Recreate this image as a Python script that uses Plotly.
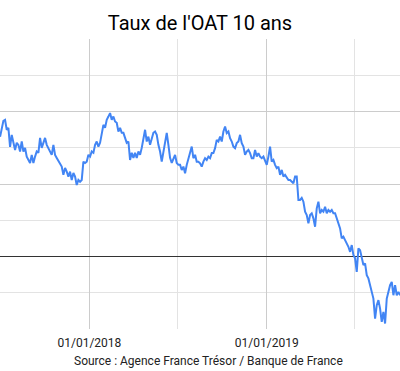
import pandas as pd
import plotly.graph_objects as go

# Sampling grid of the series (regular spacing, ~3.43 days)
start_date = "2017-07-01 03:00"
step = "4940min"

oat_10y = [
    0.825, 0.874, 0.936, 0.943, 0.874, 0.887, 0.756, 0.839, 0.793, 0.735,
    0.784, 0.770, 0.724, 0.793, 0.724, 0.749, 0.689, 0.666, 0.645, 0.701,
    0.645, 0.689, 0.724, 0.715, 0.818, 0.749, 0.793, 0.818, 0.770, 0.749,
    0.724, 0.701, 0.770, 0.701, 0.680, 0.659, 0.645, 0.620, 0.563, 0.611,
    0.585, 0.551, 0.585, 0.528, 0.576, 0.551, 0.493, 0.528, 0.516, 0.528,
    0.654, 0.645, 0.654, 0.701, 0.689, 0.724, 0.715, 0.770, 0.793, 0.758,
    0.784, 0.853, 0.908, 0.887, 0.943, 0.965, 0.989, 0.943, 0.965, 0.931,
    0.922, 0.862, 0.887, 0.853, 0.853, 0.818, 0.784, 0.793, 0.666, 0.715,
    0.680, 0.715, 0.680, 0.724, 0.701, 0.749, 0.827, 0.874, 0.793, 0.827,
    0.770, 0.818, 0.853, 0.862, 0.839, 0.770, 0.724, 0.654, 0.715, 0.793,
    0.853, 0.770, 0.680, 0.645, 0.680, 0.701, 0.645, 0.632, 0.632, 0.597,
    0.620, 0.574, 0.632, 0.680, 0.715, 0.758, 0.678, 0.701, 0.654, 0.654,
    0.643, 0.620, 0.654, 0.678, 0.666, 0.689, 0.678, 0.713, 0.713, 0.747,
    0.804, 0.793, 0.827, 0.793, 0.862, 0.896, 0.851, 0.862, 0.816, 0.793,
    0.758, 0.747, 0.782, 0.793, 0.839, 0.782, 0.758, 0.701, 0.724, 0.735,
    0.713, 0.678, 0.678, 0.735, 0.689, 0.713, 0.689, 0.678, 0.689, 0.666,
    0.632, 0.689, 0.758, 0.654, 0.666, 0.632, 0.609, 0.620, 0.563, 0.597,
    0.551, 0.563, 0.540, 0.528, 0.528, 0.516, 0.505, 0.551, 0.551, 0.390,
    0.390, 0.404, 0.378, 0.309, 0.286, 0.229, 0.286, 0.298, 0.263, 0.205,
    0.332, 0.378, 0.298, 0.321, 0.309, 0.343, 0.298, 0.321, 0.309, 0.321,
    0.298, 0.298, 0.263, 0.240, 0.194, 0.125, 0.136, 0.113, 0.091, 0.067,
    0.032, 0.079, 0.010, -0.013, -0.106, 0.056, 0.044, -0.002, -0.059, -0.048,
    -0.129, -0.151, -0.209, -0.244, -0.290, -0.428, -0.336, -0.301, -0.359, -0.451,
    -0.382, -0.462, -0.290, -0.244, -0.198, -0.175, -0.267, -0.198, -0.267, -0.244,
    -0.267,
]

dates = pd.date_range(start_date, periods=len(oat_10y), freq=step)

x_tick_vals = ["2018-01-01", "2019-01-01"]
x_tick_text = ["01/01/2018", "01/01/2019"]
x_minor_vals = ["2017-07-01", "2018-07-01", "2019-07-01"]

title_text = "Taux de l'OAT 10 ans"
source_text = "Source : Agence France Trésor / Banque de France"

fig = go.Figure()
fig.add_trace(go.Scatter(
    x=dates, y=oat_10y, mode="lines",
    line=dict(color="#4285f4", width=2),
    hoverinfo="skip", showlegend=False,
))

fig.update_layout(
    width=400, height=371,
    margin=dict(l=0, r=0, t=39, b=42),
    paper_bgcolor="white", plot_bgcolor="white",
    font=dict(family="Roboto, Arial, sans-serif", color="#222222", size=12),
    title=dict(text=title_text, x=0.5, xanchor="center", y=1 - 23 / 371,
               yanchor="middle", yref="container",
               font=dict(size=20, color="#000000")),
    showlegend=False,
)

fig.update_xaxes(
    range=["2017-07-01 00:00", "2019-10-02 07:00"],
    tickmode="array", tickvals=x_tick_vals, ticktext=x_tick_text,
    showgrid=True, gridcolor="#cccccc", gridwidth=1,
    minor=dict(tickmode="array", tickvals=x_minor_vals, showgrid=True,
               gridcolor="#e3e3e3", gridwidth=1),
    ticks="", showline=False, zeroline=False,
    ticklabelstandoff=5,
    tickfont=dict(size=12, color="#222222"),
)

fig.update_yaxes(
    range=[-0.5, 1.5], dtick=0.5, tick0=0,
    showticklabels=False, ticks="",
    showgrid=True, gridcolor="#cccccc", gridwidth=1,
    minor=dict(dtick=0.25, showgrid=True, gridcolor="#e3e3e3", gridwidth=1),
    zeroline=True, zerolinecolor="#333333", zerolinewidth=1,
    showline=False,
)

fig.add_annotation(
    text=source_text, xref="paper", yref="paper",
    x=208.3 / 400, y=-31.5 / 290, xanchor="center", yanchor="middle",
    showarrow=False, font=dict(size=12, color="#222222"),
)

fig.write_html(
    "out.html",
    config={"displayModeBar": False, "staticPlot": True},
    post_script="document.body.style.margin='0';document.body.style.overflow='hidden';",
)
